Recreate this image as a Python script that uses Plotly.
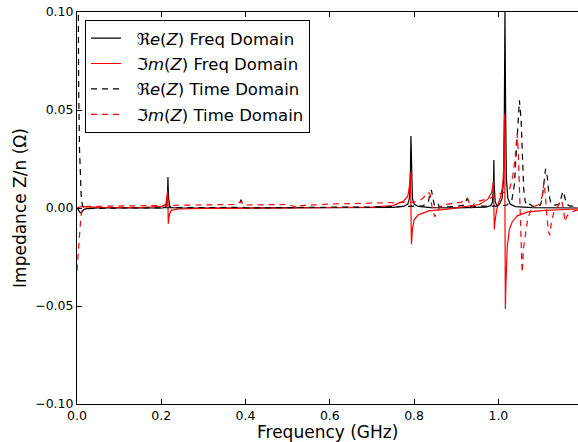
import plotly.graph_objects as go

# ---------------- data ----------------
# Frequency-domain real part (GHz, Ohm)
f_re_fd = [0.0, 0.004, 0.008, 0.012, 0.016, 0.022, 0.05, 0.15, 0.205, 0.211, 0.214, 0.2150, 0.2158,
           0.2165, 0.2172, 0.2182, 0.2200, 0.224, 0.24, 0.4, 0.6, 0.75, 0.775, 0.785, 0.789, 0.7913,
           0.7925, 0.7937, 0.796, 0.800, 0.81, 0.84, 0.9, 0.97, 0.982, 0.986, 0.9885, 0.9893, 0.9901,
           0.9925, 0.997, 1.001, 1.004, 1.009, 1.0125, 1.0142, 1.0157, 1.0172, 1.019, 1.0225, 1.028,
           1.04, 1.08, 1.19]
re_fd = [0.0, -0.001, -0.0025, -0.002, -0.0008, -0.0003, 0.0, 0.0, 0.0001, 0.0005, 0.003, 0.0075, 0.0158,
         0.0105, 0.0055, 0.002, 0.0007, 0.0002, 0.0, 0.0, 0.0001, 0.0003, 0.0008, 0.002, 0.005, 0.018,
         0.0367, 0.018, 0.005, 0.002, 0.0008, 0.0002, 0.0001, 0.0004, 0.0012, 0.003, 0.012, 0.0245, 0.012,
         0.003, 0.0012, 0.0015, 0.0025, 0.005, 0.015, 0.05, 0.102, 0.05, 0.015, 0.005, 0.002,
         0.0007, 0.0002, 0.0]

# Frequency-domain imaginary part
f_im_fd = [0.0, 0.006, 0.012, 0.02, 0.05, 0.15, 0.205, 0.211, 0.214, 0.2150, 0.2155, 0.2158, 0.2162,
           0.2166, 0.2175, 0.2195, 0.224, 0.24, 0.3, 0.5, 0.70, 0.75, 0.775, 0.785, 0.789, 0.7913,
           0.7925, 0.7937, 0.796, 0.800, 0.81, 0.835, 0.88, 0.93, 0.955, 0.975, 0.984, 0.9882, 0.9893,
           0.9904, 0.9925, 0.996, 1.001, 1.007, 1.011, 1.0135, 1.0148, 1.0157, 1.0166, 1.018, 1.021,
           1.026, 1.033, 1.045, 1.07, 1.11, 1.19]
im_fd = [0.0, 0.0005, 0.0008, 0.0006, 0.0003, 0.0002, 0.0009, 0.002, 0.0055, 0.0085, 0.0065, 0.0, -0.0055,
         -0.008, -0.0062, -0.003, -0.0012, -0.0005, -0.0002, 0.0, 0.0004, 0.0012, 0.0035, 0.006, 0.011, 0.0185,
         0.0, -0.0185, -0.011, -0.006, -0.0035, -0.0015, -0.0006, 0.0008, 0.0018, 0.0045, 0.008, 0.0138, 0.0,
         -0.011, -0.006, -0.001, 0.003, 0.007, 0.013, 0.025, 0.048, 0.0, -0.0515, -0.038, -0.02,
         -0.011, -0.007, -0.004, -0.002, -0.0012, -0.0005]

# Time-domain real part
f_re_td = [0.0, 0.002, 0.004, 0.006, 0.008, 0.010, 0.013, 0.02, 0.1, 0.2, 0.3, 0.38, 0.386, 0.389, 0.392,
           0.395, 0.40, 0.5, 0.6, 0.7, 0.78, 0.82, 0.834, 0.838, 0.841, 0.844, 0.848, 0.854, 0.857, 0.860,
           0.9, 0.92, 0.926, 0.930, 0.935, 0.97, 1.0, 1.02, 1.032, 1.038, 1.042, 1.046, 1.050, 1.054,
           1.057, 1.060, 1.064, 1.07, 1.075, 1.08, 1.09, 1.1, 1.104, 1.108, 1.112, 1.116, 1.12, 1.125,
           1.135, 1.145, 1.149, 1.153, 1.157, 1.162, 1.17, 1.19]
re_td = [0.25, 0.11, 0.06, 0.03, 0.014, 0.006, 0.001, -0.0003, 0.0, 0.0, 0.0002, 0.0003, 0.002, 0.0042, 0.003,
         0.0005, 0.0, 0.0003, 0.0004, 0.0005, 0.0006, 0.001, 0.003, 0.008, 0.0092, 0.006, 0.0015, 0.0008, 0.002,
         0.0005, 0.0008, 0.0015, 0.005, 0.003, 0.0008, 0.001, 0.001, 0.0015, 0.004, 0.012, 0.025, 0.042, 0.055,
         0.045, 0.025, 0.01, 0.003, 0.001, 0.002, 0.001, 0.001, 0.0015, 0.005, 0.013, 0.020, 0.016, 0.007,
         0.002, 0.0015, 0.002, 0.005, 0.0085, 0.006, 0.002, 0.001, 0.0008]

# Time-domain imaginary part
f_im_td = [0.0, 0.003, 0.006, 0.009, 0.012, 0.016, 0.025, 0.1, 0.2, 0.3, 0.38, 0.386, 0.390, 0.394, 0.40,
           0.5, 0.52, 0.525, 0.53, 0.6, 0.7, 0.78, 0.80, 0.815, 0.826, 0.833, 0.838, 0.843, 0.849, 0.857,
           0.866, 0.9, 0.913, 0.922, 0.927, 0.932, 0.936, 0.945, 0.96, 0.98, 1.0, 1.015, 1.027, 1.034,
           1.040, 1.0445, 1.047, 1.0495, 1.052, 1.054, 1.0565, 1.060, 1.065, 1.070, 1.078, 1.088, 1.098,
           1.104, 1.108, 1.111, 1.115, 1.119, 1.122, 1.126, 1.132, 1.140, 1.147, 1.150, 1.154, 1.158,
           1.163, 1.17, 1.18, 1.19]
im_td = [-0.032, -0.021, -0.012, -0.005, -0.001, 0.0005, 0.0008, 0.001, 0.0012, 0.0015, 0.0018, 0.003, 0.0035,
         0.0015, 0.0015, 0.0018, 0.0005, 0.0, 0.0012, 0.002, 0.0025, 0.0028, 0.003, 0.004, 0.006, 0.008, 0.007,
         0.0, -0.0045, -0.001, 0.0015, 0.0025, 0.003, 0.004, 0.005, 0.002, 0.0, 0.003, 0.004, 0.005, 0.007,
         0.008, 0.010, 0.016, 0.026, 0.038, 0.030, 0.011, -0.005, -0.018, -0.033, -0.02, -0.011, -0.005,
         -0.001, 0.001, 0.002, 0.006, 0.013, 0.008, -0.004, -0.012, -0.014, -0.007, -0.002, 0.001, 0.003,
         0.004, 0.0, -0.007, -0.004, -0.0025, -0.0015, -0.001]

x_ticks = [0.0, 0.2, 0.4, 0.6, 0.8, 1.0]
y_ticks = [-0.10, -0.05, 0.0, 0.05, 0.10]

labels = ["ℜ<i>e</i>(<i>Z</i>) Freq Domain", "ℑ<i>m</i>(<i>Z</i>) Freq Domain",
          "ℜ<i>e</i>(<i>Z</i>) Time Domain", "ℑ<i>m</i>(<i>Z</i>) Time Domain"]

# ---------------- figure ----------------
FONT = "DejaVu Sans"
fig = go.Figure()
series = [
    (f_re_fd, re_fd, "black", "solid"),
    (f_im_fd, im_fd, "red", "solid"),
    (f_re_td, re_td, "black", "6px,5px"),
    (f_im_td, im_td, "red", "6px,5px"),
]
for i, (xs, ys, col, dash) in enumerate(series):
    fig.add_trace(go.Scatter(x=xs, y=ys, mode="lines", name="\u00a0\u00a0" + labels[i],
                             legendgroup=str(i),
                             line=dict(color=col, width=1.2, dash=dash)))

fig.update_layout(
    width=578, height=442,
    margin=dict(l=77, r=0, t=12, b=38),
    plot_bgcolor="white", paper_bgcolor="white",
    font=dict(family=FONT, size=12.5, color="black"),
    showlegend=True,
    legend=dict(x=0.016, y=0.98, xanchor="left", yanchor="top",
                bgcolor="white", bordercolor="black", borderwidth=1,
                font=dict(family=FONT, size=16.5), tracegroupgap=1, traceorder="grouped",
                itemwidth=30),
    xaxis=dict(range=[0, 1.189], tickvals=x_ticks, tickformat=".1f",
               ticks="inside", ticklen=5, tickcolor="black", showline=True, linecolor="black",
               linewidth=1, mirror="ticks", showgrid=False, zeroline=False, automargin=False),
    yaxis=dict(range=[-0.1, 0.1], tickvals=y_ticks, tickformat=".2f",
               ticks="inside", ticklen=5, tickcolor="black", showline=True, linecolor="black",
               linewidth=1, showgrid=False, zeroline=False, automargin=False,
               title=dict(text="Impedance Z/n (Ω)", font=dict(size=17), standoff=4)),
    annotations=[dict(text="Frequency (GHz)", xref="paper", yref="paper", x=0.5, y=-0.1,
                      xanchor="center", yanchor="bottom", showarrow=False,
                      font=dict(family=FONT, size=17), borderpad=0)],
)

fig.write_html("out.html")
